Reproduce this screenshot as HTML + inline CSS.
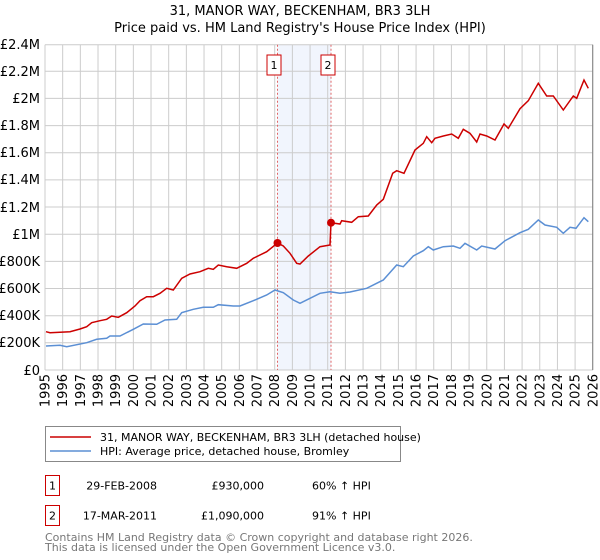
<!DOCTYPE html>
<html><head><meta charset="utf-8"><style>
body{margin:0;background:#fff;}
svg{display:block;font-family:"DejaVu Sans","Liberation Sans",sans-serif;}
</style></head><body>
<svg width="600" height="560" viewBox="0 0 600 560" xmlns="http://www.w3.org/2000/svg">
<text x="300" y="15" font-size="13" text-anchor="middle">31, MANOR WAY, BECKENHAM, BR3 3LH</text>
<text x="300" y="32" font-size="13" text-anchor="middle">Price paid vs. HM Land Registry's House Price Index (HPI)</text>
<rect x="277.5" y="44.7" width="53.5" height="325.3" fill="#eef3fc" opacity="0.8"/>
<g stroke="#cccccc" stroke-width="1">
<line x1="45" y1="370" x2="593" y2="370"/><line x1="45" y1="342.8" x2="593" y2="342.8"/><line x1="45" y1="315.7" x2="593" y2="315.7"/><line x1="45" y1="288.5" x2="593" y2="288.5"/><line x1="45" y1="261.4" x2="593" y2="261.4"/><line x1="45" y1="234.2" x2="593" y2="234.2"/><line x1="45" y1="207" x2="593" y2="207"/><line x1="45" y1="179.9" x2="593" y2="179.9"/><line x1="45" y1="152.7" x2="593" y2="152.7"/><line x1="45" y1="125.6" x2="593" y2="125.6"/><line x1="45" y1="98.4" x2="593" y2="98.4"/><line x1="45" y1="71.3" x2="593" y2="71.3"/><line x1="45" y1="44.7" x2="593" y2="44.7"/>
</g>
<g id="vg" stroke="#cccccc" stroke-width="1"></g>
<line x1="592.7" y1="44.7" x2="592.7" y2="370" stroke="#888" stroke-width="1.2"/>
<line x1="277.5" y1="44.7" x2="277.5" y2="370" stroke="#e06666" stroke-width="1" stroke-dasharray="2,2"/>
<line x1="331" y1="44.7" x2="331" y2="370" stroke="#e06666" stroke-width="1" stroke-dasharray="2,2"/>
<polyline fill="none" stroke="#5b8fd4" stroke-width="1.5" points="46,346 60,345.3 66.7,346.7 86.7,342.7 96.7,339.3 106.7,338.3 110,336 120,336 133.3,329.3 143.3,324 156.7,324.3 165,320 176.7,319.3 181.7,312.7 193.3,309.3 203.3,307.3 213.3,307.3 218.3,304.7 233.3,306 240,306 253.3,300.7 266.7,295 275,290 283.3,292.7 293.3,300 300,303.3 320,293.3 330,291.7 340,293.3 350,292 366.7,288.3 383.3,280 396.7,265 403.3,266.7 413.3,256 423.3,250.7 428.3,246.7 433.3,250 443.3,246.7 453.3,246 460,248.3 465,243.3 476.7,250 481.7,246 495,249 505,240.7 520,232.7 528.3,229.3 538.3,220 545,225 556.7,227.3 563.3,233.3 570,227.3 576,228.3 584,217.7 588.3,221.7"/>
<polyline fill="none" stroke="#cc0000" stroke-width="1.5" points="46,331.7 50,332.7 70,331.7 80,329 86.7,326.7 91.7,322.7 100,320.7 106.7,319.3 111.7,316 118.3,317.3 126.7,312.7 135,306 140,300.7 146.7,296.7 153.3,296.7 160,293.3 166.7,288.3 173.3,290 181.7,278.3 190,274 200,271.7 208.3,268.3 213.3,269.3 218.3,265 226.7,266.7 236.7,268.3 246.7,263.3 253.3,258.3 266.7,251.7 277.5,243 283.3,246 290,253.3 296.7,263.3 300,264 308.3,256 320,246.7 330,245 331,222.7 340,224 341.7,220.7 351.7,222.3 358.3,216.7 368.3,216 376.7,205 383.3,199.3 392.7,173.3 396.7,170.7 404,173.3 415,150 423.3,143.3 426.7,136.7 431.7,142.7 435,138.3 443.3,136 451.7,134 458.3,138.3 463.3,129.3 470,133.3 476.7,142 480,134 486.7,136 495,140 504,124 508.3,128.3 520,108.7 528.3,100.7 538.3,83.3 546.7,96 553.3,96 563.3,110 573.3,96 576.7,98.3 584,80 588.3,88.3"/>
<circle cx="277.5" cy="243" r="4" fill="#cc0000"/>
<circle cx="331" cy="222.7" r="4" fill="#cc0000"/>
<rect x="267" y="55" width="14" height="20" fill="#fff" stroke="#cc0000"/>
<text x="274" y="69" font-size="11" text-anchor="middle">1</text>
<rect x="321" y="55" width="14" height="20" fill="#fff" stroke="#cc0000"/>
<text x="328" y="69" font-size="11" text-anchor="middle">2</text>
<g font-size="13" text-anchor="end">
<text x="40" y="49">£2.4M</text><text x="40" y="76">£2.2M</text><text x="40" y="103">£2M</text><text x="40" y="130">£1.8M</text><text x="40" y="157">£1.6M</text><text x="40" y="184">£1.4M</text><text x="40" y="212">£1.2M</text><text x="40" y="239">£1M</text><text x="40" y="266">£800K</text><text x="40" y="293">£600K</text><text x="40" y="320">£400K</text><text x="40" y="347">£200K</text><text x="40" y="375">£0</text>
</g>
<g id="xl" font-size="13" text-anchor="end"></g>
<rect x="45.5" y="426.5" width="355" height="35" fill="#fff" stroke="#888"/>
<line x1="50" y1="437" x2="91" y2="437" stroke="#cc0000" stroke-width="1.5"/>
<text x="100" y="441" font-size="11">31, MANOR WAY, BECKENHAM, BR3 3LH (detached house)</text>
<line x1="50" y1="451" x2="91" y2="451" stroke="#5b8fd4" stroke-width="1.5"/>
<text x="100" y="455" font-size="11">HPI: Average price, detached house, Bromley</text>
<g font-size="11">
<rect x="45.5" y="475.5" width="14" height="20" fill="#fff" stroke="#cc0000"/><text x="52.5" y="489.5" text-anchor="middle">1</text>
<text x="157" y="489.5" text-anchor="end">29-FEB-2008</text><text x="264" y="489.5" text-anchor="end">£930,000</text><text x="312" y="489.5">60% ↑ HPI</text>
<rect x="45.5" y="505.5" width="14" height="20" fill="#fff" stroke="#cc0000"/><text x="52.5" y="519.5" text-anchor="middle">2</text>
<text x="157" y="519.5" text-anchor="end">17-MAR-2011</text><text x="264" y="519.5" text-anchor="end">£1,090,000</text><text x="312" y="519.5">91% ↑ HPI</text>
</g>
<text x="45" y="541" font-size="11" fill="#777">Contains HM Land Registry data © Crown copyright and database right 2026.</text>
<text x="45" y="551" font-size="11" fill="#777">This data is licensed under the Open Government Licence v3.0.</text>
<script>
var vg=document.getElementById('vg'),xl=document.getElementById('xl'),ns='http://www.w3.org/2000/svg';
for(var i=0;i<=31;i++){var x=45+i*17.67;
if(i<31){var l=document.createElementNS(ns,'line');l.setAttribute('x1',x);l.setAttribute('x2',x);l.setAttribute('y1',44.7);l.setAttribute('y2',370);vg.appendChild(l);}
var t=document.createElementNS(ns,'text');t.setAttribute('transform','translate('+(x+4.5)+',374) rotate(-90)');t.textContent=1995+i;xl.appendChild(t);}
</script>
</svg>
</body></html>
